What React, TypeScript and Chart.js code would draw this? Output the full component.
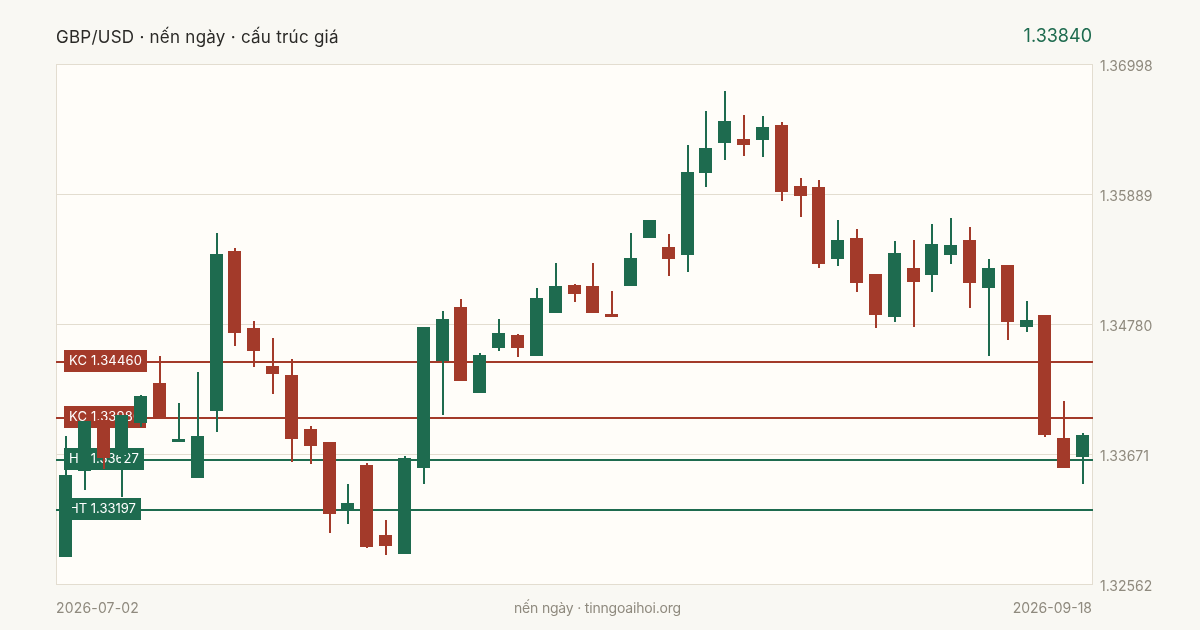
import React, { useEffect, useRef } from "react";
import { Chart, registerables } from "chart.js";

Chart.register(...registerables);

const categories = [
  "2026-07-02","2026-07-06","2026-07-07","2026-07-08","2026-07-09","2026-07-10",
  "2026-07-13","2026-07-14","2026-07-15","2026-07-16","2026-07-17",
  "2026-07-20","2026-07-21","2026-07-22","2026-07-23","2026-07-24",
  "2026-07-27","2026-07-28","2026-07-29","2026-07-30","2026-07-31",
  "2026-08-03","2026-08-04","2026-08-05","2026-08-06","2026-08-07",
  "2026-08-10","2026-08-11","2026-08-12","2026-08-13","2026-08-14",
  "2026-08-17","2026-08-18","2026-08-19","2026-08-20","2026-08-21",
  "2026-08-24","2026-08-25","2026-08-26","2026-08-27","2026-08-28",
  "2026-08-31","2026-09-01","2026-09-02","2026-09-03","2026-09-04",
  "2026-09-08","2026-09-09","2026-09-10","2026-09-11",
  "2026-09-14","2026-09-15","2026-09-16","2026-09-17","2026-09-18",
];

const opens = [
  1.32801,1.33535,1.33969,1.33671,1.33944,1.34285,1.33782,1.33474,1.34046,1.35411,
  1.34754,1.3443,1.34353,1.33893,1.33782,1.33201,1.33586,1.32988,1.32826,1.3356,
  1.34473,1.34934,1.342,1.34583,1.34695,1.34515,1.34883,1.35121,1.35112,1.34874,
  1.35112,1.35522,1.35445,1.35377,1.36077,1.36333,1.36367,1.36358,1.36486,1.35965,
  1.35957,1.35343,1.35522,1.35215,1.34848,1.35266,1.35206,1.35377,1.35505,1.35095,
  1.35292,1.34763,1.34865,1.33816,1.33654,
];
const highs = [
  1.33833,1.33961,1.33995,1.34012,1.34183,1.34515,1.34115,1.34379,1.35565,1.35436,
  1.34814,1.34669,1.3449,1.33918,1.33782,1.33423,1.33603,1.33116,1.33662,1.34763,
  1.349,1.35002,1.34541,1.34831,1.34703,1.35095,1.35309,1.3513,1.35309,1.3507,
  1.35565,1.35675,1.35556,1.36316,1.36606,1.36776,1.36571,1.36562,1.36511,1.36034,
  1.36017,1.35675,1.35599,1.35215,1.35497,1.35505,1.35641,1.35692,1.35616,1.35343,
  1.35292,1.34985,1.34865,1.34132,1.33859,
];
const lows = [
  1.32801,1.33372,1.33552,1.33313,1.3391,1.33986,1.33782,1.33474,1.33867,1.346,
  1.34422,1.34191,1.33611,1.33594,1.33006,1.33082,1.32877,1.32818,1.32826,1.33423,
  1.34012,1.34302,1.342,1.34558,1.34507,1.34515,1.34883,1.34976,1.34883,1.34848,
  1.35112,1.35522,1.35197,1.35232,1.35957,1.36187,1.36221,1.36213,1.35838,1.35701,
  1.35266,1.35283,1.35061,1.34754,1.34805,1.34763,1.35061,1.353,1.34925,1.34515,
  1.34652,1.3472,1.33825,1.3356,1.33423,
];
const closes = [
  1.335,1.33961,1.33645,1.34012,1.34174,1.33986,1.33808,1.33833,1.35385,1.34712,
  1.34558,1.34362,1.33808,1.33747,1.33167,1.33262,1.32886,1.32894,1.33645,1.34763,
  1.34831,1.34302,1.34524,1.34712,1.34583,1.3501,1.35112,1.35044,1.34883,1.34848,
  1.35351,1.35675,1.35343,1.36085,1.3629,1.3652,1.36316,1.36469,1.35914,1.3588,
  1.353,1.35505,1.35138,1.34865,1.35394,1.35146,1.35471,1.35462,1.35138,1.35266,
  1.34805,1.34822,1.33842,1.3356,1.3384,
];

const levelKinds = ["KC", "KC", "HT", "HT"];
const levelValues = [1.3446, 1.3398, 1.33627, 1.33197];
const yTicks = [1.36998, 1.35889, 1.3478, 1.33671, 1.32562];
const yMin = 1.32562;
const yMax = 1.36998;

const UP = "#1e6b4f";
const DOWN = "#a33a2a";
const PAGE = "#f9f8f3";
const PLOT = "#fffdf9";
const GRID = "#e3ddd0";
const MUTED = "#8f8a7e";
const FONT = "Inter, sans-serif";

const candleColor = closes.map((c, i) => (c >= opens[i] ? UP : DOWN));
const levelColor = (kind: string) => (kind === "KC" ? DOWN : UP);

const LEVELS = levelValues.length;
const WICK = LEVELS;
const BODY = LEVELS + 1;

const plotFrame = {
  id: "plotFrame",
  beforeDraw(chart: any) {
    const { ctx, chartArea: a } = chart;
    ctx.save();
    ctx.fillStyle = PLOT;
    ctx.fillRect(a.left, a.top, a.right - a.left, a.bottom - a.top);
    ctx.strokeStyle = GRID;
    ctx.lineWidth = 1;
    ctx.strokeRect(a.left + 0.5, a.top, a.right - a.left, a.bottom - a.top);
    ctx.restore();
  },
};

const pixelSnap = {
  id: "pixelSnap",
  beforeDatasetsDraw(chart: any) {
    const a = chart.chartArea;
    for (let i = 0; i < LEVELS; i++) {
      const pts = chart.getDatasetMeta(i).data;
      pts.forEach((p: any, k: number) => {
        p.y = Math.round(p.y);
        p.x = k === 0 ? a.left : a.right + 1;
      });
    }
    chart.getDatasetMeta(WICK).data.forEach((el: any) => {
      el.x = Math.floor(el.x) + 1;
      el.y = Math.round(el.y + 0.5);
      el.base = Math.round(el.base + 0.5);
    });
    chart.getDatasetMeta(BODY).data.forEach((el: any) => {
      el.x = Math.round(el.x - 6.5) + 6.5;
      el.y = Math.round(el.y + 0.5);
      el.base = Math.round(el.base + 0.5);
    });
  },
};

const levelTags = {
  id: "levelTags",
  beforeDatasetDraw(chart: any, args: any) {
    if (args.index !== WICK) return;
    const { ctx, chartArea: a, scales } = chart;
    ctx.save();
    ctx.font = `13px ${FONT}`;
    ctx.textBaseline = "middle";
    ctx.textAlign = "left";
    levelValues.forEach((v, i) => {
      const y = Math.round(scales.y.getPixelForValue(v));
      const text = `${levelKinds[i]} ${v.toFixed(5)}`;
      ctx.letterSpacing = levelKinds[i] === "KC" ? "0.2px" : "0px";
      const w = ctx.measureText(text).width;
      ctx.fillStyle = levelColor(levelKinds[i]);
      ctx.fillRect(a.left + 8, y - 12, Math.round(w + 10), 22);
      ctx.fillStyle = "#ffffff";
      ctx.fillText(text, a.left + 13, y - 0.5);
    });
    ctx.restore();
  },
};

const axisLabels = {
  id: "axisLabels",
  afterDraw(chart: any) {
    const { ctx, chartArea: a, scales } = chart;
    ctx.save();
    ctx.font = `14px ${FONT}`;
    ctx.fillStyle = MUTED;
    ctx.textBaseline = "middle";
    ctx.textAlign = "left";
    scales.y.ticks.forEach((t: any) => {
      const y = Math.floor(scales.y.getPixelForValue(t.value)) + 3;
      ctx.fillText(Number(t.value).toFixed(5), a.right + 8, y);
    });
    ctx.restore();
  },
};

const textBase: React.CSSProperties = {
  position: "absolute",
  fontFamily: FONT,
  whiteSpace: "nowrap",
  lineHeight: "20px",
};

export default function App() {
  const ref = useRef<HTMLCanvasElement | null>(null);

  useEffect(() => {
    document.body.style.margin = "0";
    document.body.style.background = PAGE;
    const chart = new Chart(ref.current as HTMLCanvasElement, {
      type: "bar",
      data: {
        labels: categories,
        datasets: [
          ...levelValues.map((v, i) => ({
            type: "line" as const,
            label: `${levelKinds[i]} ${v.toFixed(5)}`,
            data: [{ x: 0, y: v }, { x: 1, y: v }],
            xAxisID: "x2",
            yAxisID: "y",
            borderColor: levelColor(levelKinds[i]),
            borderWidth: 2,
            pointRadius: 0,
            tension: 0,
            clip: false as any,
            order: 3,
          })),
          {
            label: "wick",
            data: highs.map((h, i) => [lows[i], h]),
            backgroundColor: candleColor,
            barThickness: 2,
            borderWidth: 0,
            inflateAmount: 0,
            grouped: false,
            xAxisID: "x",
            yAxisID: "y",
            order: 2,
          },
          {
            label: "body",
            data: opens.map((o, i) => [o, closes[i]]),
            backgroundColor: candleColor,
            barThickness: 13,
            borderWidth: 0,
            inflateAmount: 0,
            grouped: false,
            xAxisID: "x",
            yAxisID: "y",
            order: 1,
          },
        ] as any,
      },
      options: {
        responsive: false,
        animation: false,
        devicePixelRatio: 1,
        layout: { padding: { left: 56, top: 64.5, bottom: 45.5, right: 0 } },
        plugins: { legend: { display: false }, tooltip: { enabled: false } },
        events: [],
        scales: {
          x: { type: "category", display: false, offset: true, grid: { display: false } },
          x2: { type: "linear", display: false, min: 0, max: 1 },
          y: {
            type: "linear",
            position: "right",
            min: yMin,
            max: yMax,
            afterBuildTicks: (s: any) => {
              s.ticks = yTicks.map((value) => ({ value }));
            },
            afterFit: (s: any) => {
              s.width = 108;
            },
            border: { display: false },
            grid: { color: GRID, lineWidth: 1, drawTicks: false },
            ticks: { display: false },
          },
        },
      } as any,
      plugins: [plotFrame, pixelSnap, levelTags, axisLabels] as any,
    });
    return () => chart.destroy();
  }, []);

  return (
    <div style={{ position: "absolute", left: 0, top: 0, width: 1200, height: 630, background: PAGE, overflow: "hidden" }}>
      <canvas ref={ref} width={1200} height={630} style={{ position: "absolute", left: 0, top: 0, display: "block" }} />
      <div style={{ ...textBase, left: 56, top: 27, fontSize: 17, letterSpacing: "0.25px", color: "#2b2a27" }}>GBP/USD · nến ngày · cấu trúc giá</div>
      <div style={{ ...textBase, right: 108, top: 26, fontSize: 18, color: UP }}>1.33840</div>
      <div style={{ ...textBase, left: 56, top: 598, fontSize: 14, letterSpacing: "0.17px", color: MUTED }}>{categories[0]}</div>
      <div style={{ ...textBase, left: 514, top: 598, fontSize: 14, letterSpacing: "-0.19px", color: MUTED }}>nến ngày · tinngoaihoi.org</div>
      <div style={{ ...textBase, right: 108, top: 598, fontSize: 14, color: MUTED }}>{categories[categories.length - 1]}</div>
    </div>
  );
}
